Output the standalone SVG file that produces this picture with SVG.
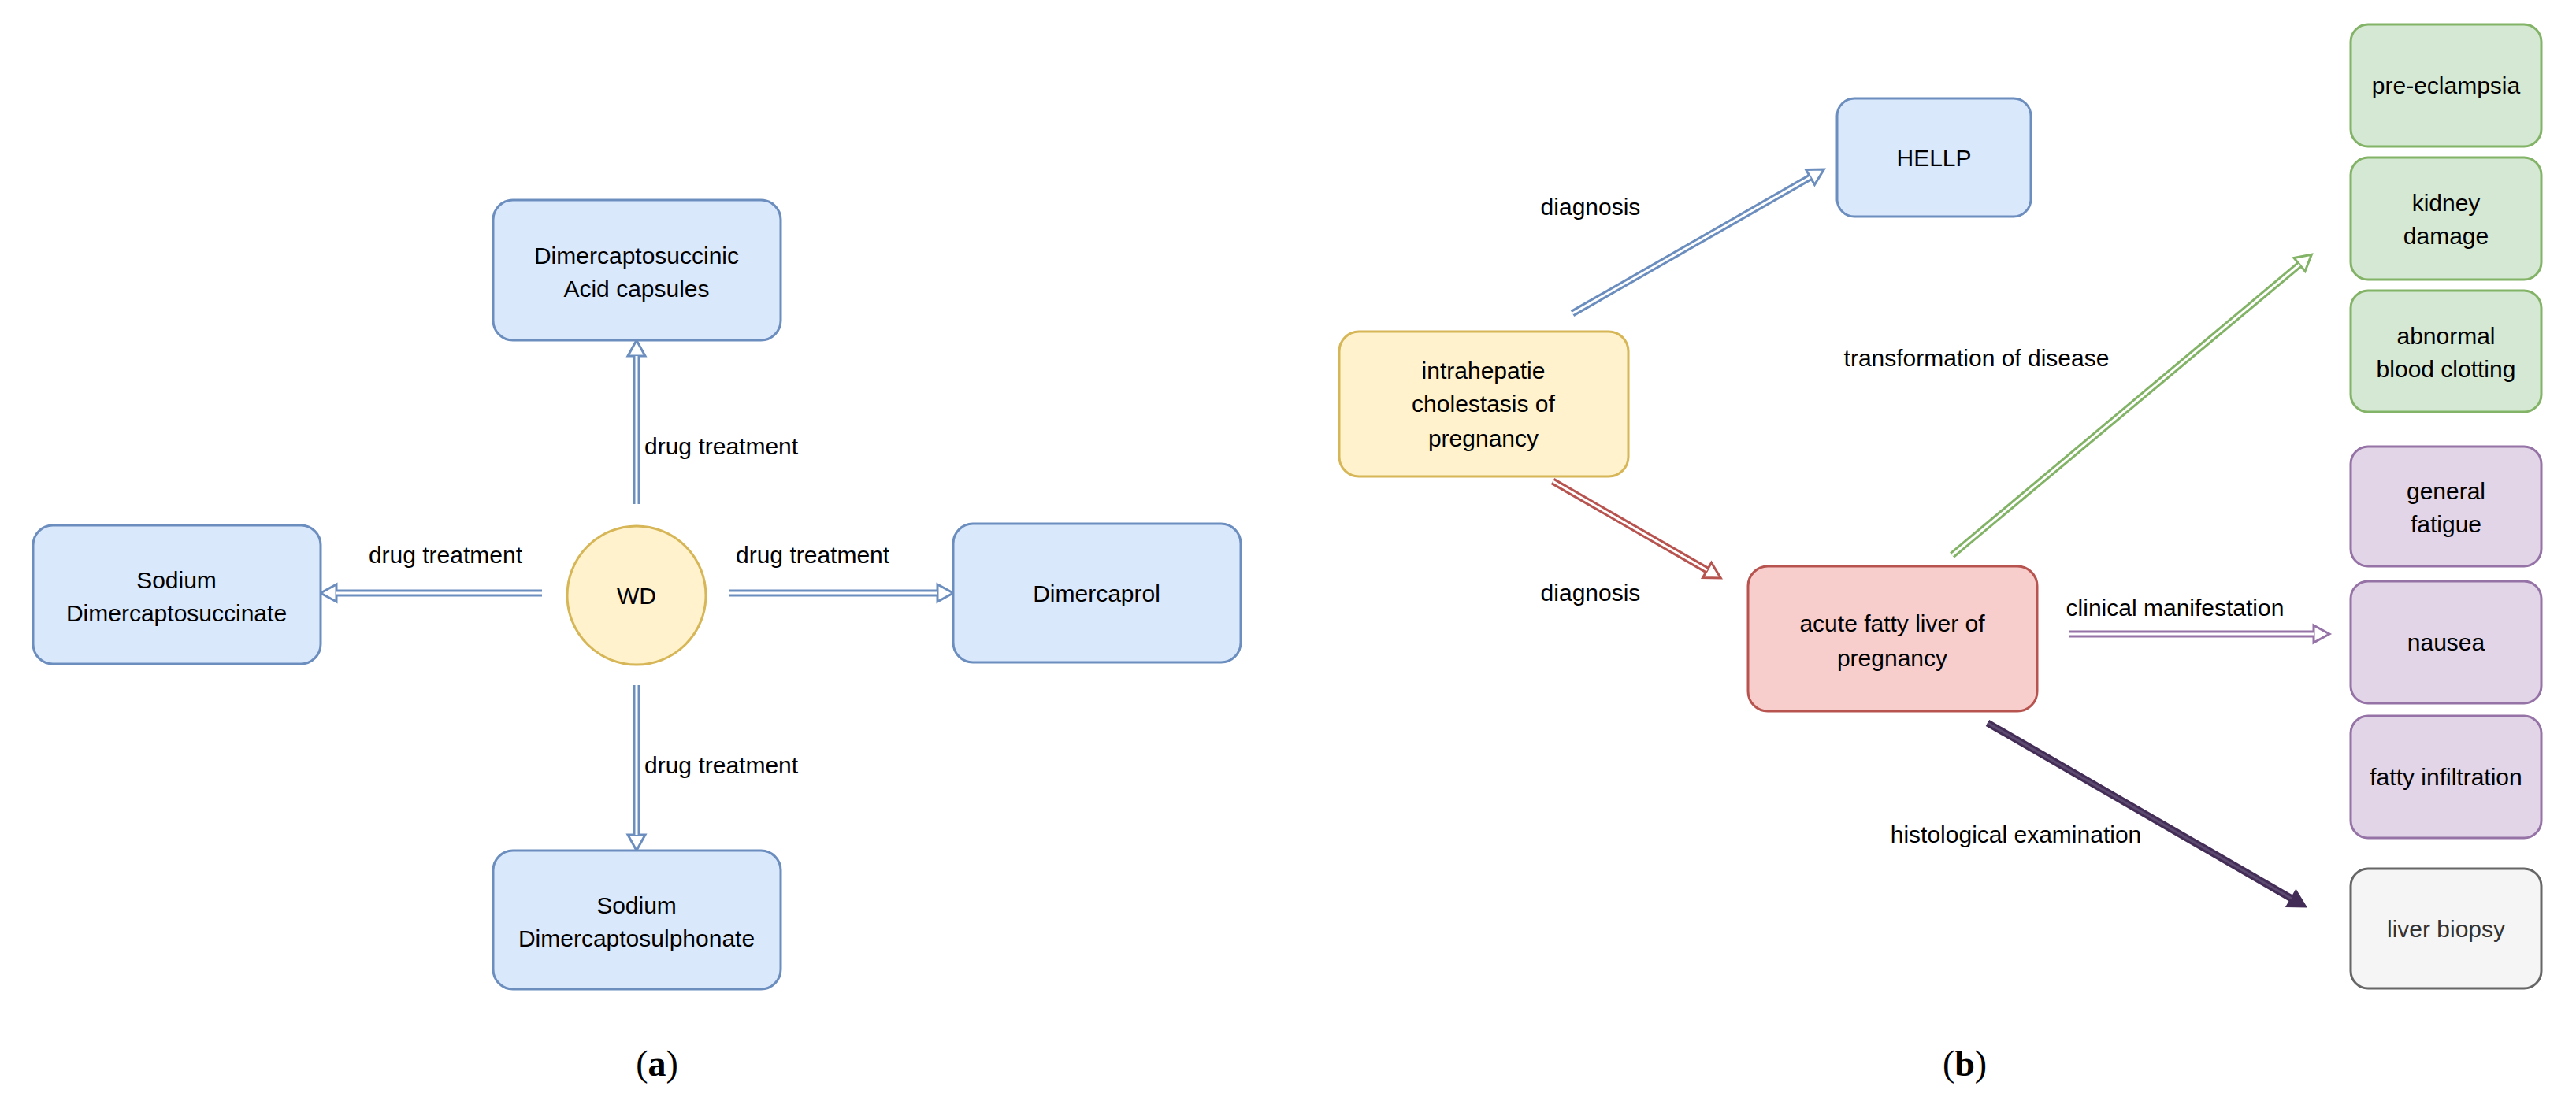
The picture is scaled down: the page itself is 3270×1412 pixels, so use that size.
<svg xmlns="http://www.w3.org/2000/svg" width="3270" height="1412" viewBox="0 0 3270 1412">
<style>
text{font-family:"Liberation Sans",Arial,sans-serif;font-size:30px;fill:#000}
.c{text-anchor:middle}
.cap{font-family:"Liberation Serif","Times New Roman",serif;font-size:46px}
.blue{fill:#dae8fc;stroke:#6c8ebf;stroke-width:3}
.yel{fill:#fff2cc;stroke:#d6b656;stroke-width:3}
.red{fill:#f8cecc;stroke:#b85450;stroke-width:3}
.grn{fill:#d5e8d4;stroke:#82b366;stroke-width:3}
.pur{fill:#e1d5e7;stroke:#9673a6;stroke-width:3}
.gry{fill:#f5f5f5;stroke:#666666;stroke-width:3}
.in{stroke:#fff;stroke-width:3;fill:none}
</style>
<defs>
<marker id="hb" markerUnits="userSpaceOnUse" viewBox="-3 -14 27 28" refX="0" refY="0" markerWidth="27" markerHeight="28" orient="auto"><path d="M0,-11 L20,0 L0,11 Z" fill="#fff" stroke="#6c8ebf" stroke-width="3"/></marker>
<marker id="hr" markerUnits="userSpaceOnUse" viewBox="-3 -14 27 28" refX="0" refY="0" markerWidth="27" markerHeight="28" orient="auto"><path d="M0,-11 L20,0 L0,11 Z" fill="#fff" stroke="#b85450" stroke-width="3"/></marker>
<marker id="hg" markerUnits="userSpaceOnUse" viewBox="-3 -14 27 28" refX="0" refY="0" markerWidth="27" markerHeight="28" orient="auto"><path d="M0,-11 L20,0 L0,11 Z" fill="#fff" stroke="#82b366" stroke-width="3"/></marker>
<marker id="hp" markerUnits="userSpaceOnUse" viewBox="-3 -14 27 28" refX="0" refY="0" markerWidth="27" markerHeight="28" orient="auto"><path d="M0,-11 L20,0 L0,11 Z" fill="#fff" stroke="#9673a6" stroke-width="3"/></marker>
<marker id="hd" markerUnits="userSpaceOnUse" viewBox="-3 -14 27 28" refX="0" refY="0" markerWidth="27" markerHeight="28" orient="auto"><path d="M0,-11 L20,0 L0,11 Z" fill="#432d57" stroke="#432d57" stroke-width="3"/></marker>
</defs>
<rect width="3270" height="1412" fill="#fff"/>
<g id="connectors">
<g stroke="#6c8ebf" stroke-width="9" fill="none" marker-end="url(#hb)">
<line x1="808" y1="640" x2="808" y2="452"/>
<line x1="926" y1="753" x2="1190" y2="753"/>
<line x1="688" y1="753" x2="427" y2="753"/>
<line x1="808" y1="870" x2="808" y2="1060"/>
<line x1="1996" y1="398" x2="2298" y2="225"/>
</g>
<g class="in">
<line x1="808" y1="640" x2="808" y2="452"/>
<line x1="926" y1="753" x2="1190" y2="753"/>
<line x1="688" y1="753" x2="427" y2="753"/>
<line x1="808" y1="870" x2="808" y2="1060"/>
<line x1="1996" y1="398" x2="2298" y2="225"/>
<line x1="1971" y1="611" x2="2167" y2="724" stroke="#b85450" stroke-width="9" marker-end="url(#hr)"/>
<line x1="1971" y1="611" x2="2167" y2="724"/>
<line x1="2478" y1="705" x2="2919" y2="336" stroke="#82b366" stroke-width="9" marker-end="url(#hg)"/>
<line x1="2478" y1="705" x2="2919" y2="336"/>
<line x1="2626" y1="805" x2="2937" y2="805" stroke="#9673a6" stroke-width="9" marker-end="url(#hp)"/>
<line x1="2626" y1="805" x2="2937" y2="805"/>
<line x1="2523" y1="918" x2="2909" y2="1141" stroke="#432d57" stroke-width="9" marker-end="url(#hd)"/>
<line x1="2523" y1="918" x2="2909" y2="1141" stroke="#5c4a70"/>
</g>
<text x="818" y="577">drug treatment</text>
<text x="934" y="715">drug treatment</text>
<text x="663" y="715" text-anchor="end">drug treatment</text>
<text x="818" y="982">drug treatment</text>
<text class="c" x="2019" y="273">diagnosis</text>
<text class="c" x="2019" y="763">diagnosis</text>
<text class="c" x="2509" y="465">transformation of disease</text>
<text class="c" x="2761" y="782">clinical manifestation</text>
<text class="c" x="2559" y="1070">histological examination</text>
</g>
<g id="n_dmsa"><rect class="blue" x="626" y="254" width="365" height="178" rx="25"/><text class="c" x="808" y="335">Dimercaptosuccinic</text><text class="c" x="808" y="377">Acid capsules</text></g>
<g id="n_wd"><ellipse cx="808" cy="756" rx="88" ry="88" fill="#fff2cc" stroke="#d6b656" stroke-width="3"/><text class="c" x="808" y="767">WD</text></g>
<g id="n_sds"><rect class="blue" x="42" y="667" width="365" height="176" rx="25"/><text class="c" x="224" y="747">Sodium</text><text class="c" x="224" y="789">Dimercaptosuccinate</text></g>
<g id="n_dim"><rect class="blue" x="1210" y="665" width="365" height="176" rx="25"/><text class="c" x="1392" y="764">Dimercaprol</text></g>
<g id="n_sdsp"><rect class="blue" x="626" y="1080" width="365" height="176" rx="25"/><text class="c" x="808" y="1160">Sodium</text><text class="c" x="808" y="1202">Dimercaptosulphonate</text></g>
<g id="n_hellp"><rect class="blue" x="2332" y="125" width="246" height="150" rx="22"/><text class="c" x="2455" y="211">HELLP</text></g>
<g id="n_icp"><rect class="yel" x="1700" y="421" width="367" height="184" rx="25"/><text class="c" x="1883" y="481">intrahepatie</text><text class="c" x="1883" y="523">cholestasis of</text><text class="c" x="1883" y="567">pregnancy</text></g>
<g id="n_aflp"><rect class="red" x="2219" y="719" width="367" height="184" rx="25"/><text class="c" x="2402" y="802">acute fatty liver of</text><text class="c" x="2402" y="846">pregnancy</text></g>
<g id="n_pre"><rect class="grn" x="2984" y="31" width="242" height="155" rx="22"/><text class="c" x="3105" y="119">pre-eclampsia</text></g>
<g id="n_kid"><rect class="grn" x="2984" y="200" width="242" height="155" rx="22"/><text class="c" x="3105" y="268">kidney</text><text class="c" x="3105" y="310">damage</text></g>
<g id="n_abc"><rect class="grn" x="2984" y="369" width="242" height="154" rx="22"/><text class="c" x="3105" y="437">abnormal</text><text class="c" x="3105" y="479">blood clotting</text></g>
<g id="n_gf"><rect class="pur" x="2984" y="567" width="242" height="152" rx="22"/><text class="c" x="3105" y="634">general</text><text class="c" x="3105" y="676">fatigue</text></g>
<g id="n_nau"><rect class="pur" x="2984" y="738" width="242" height="155" rx="22"/><text class="c" x="3105" y="826">nausea</text></g>
<g id="n_fi"><rect class="pur" x="2984" y="909" width="242" height="155" rx="22"/><text class="c" x="3105" y="997">fatty infiltration</text></g>
<g id="n_lb"><rect class="gry" x="2984" y="1103" width="242" height="152" rx="22"/><text class="c" x="3105" y="1190" style="fill:#333">liver biopsy</text></g>
<text class="cap c" x="834" y="1366">(<tspan font-weight="bold">a</tspan>)</text>
<text class="cap c" x="2494" y="1366">(<tspan font-weight="bold">b</tspan>)</text>
</svg>
